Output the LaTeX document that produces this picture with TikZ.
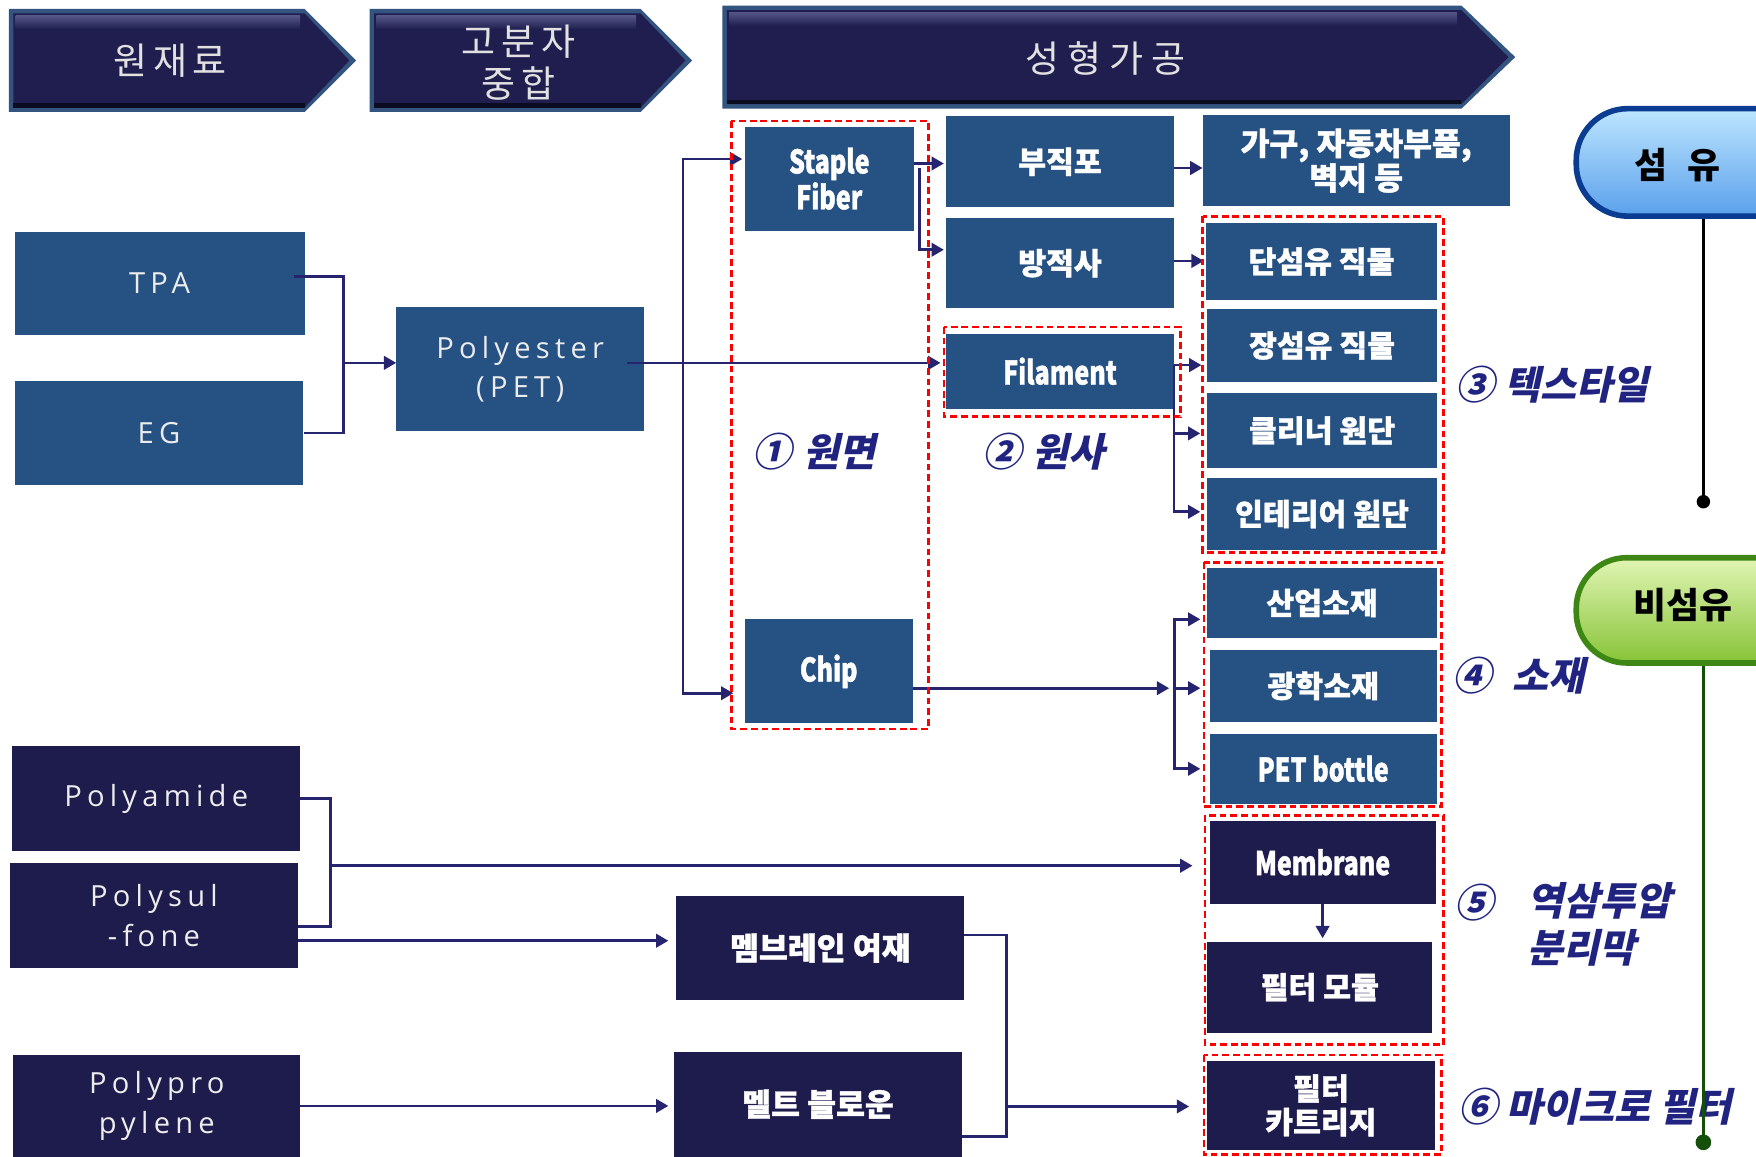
\documentclass[tikz,border=0pt]{standalone}
\usepackage{fontspec}
\usetikzlibrary{arrows.meta}
\newfontfamily\kr{Noto Sans CJK KR}
\newfontfamily\krh{Noto Sans CJK KR}[BoldFeatures={FakeBold=1.2}]
\newfontfamily\krc{Noto Sans CJK KR}[FakeStretch=0.77, BoldFeatures={FakeBold=1.2}]
\newfontfamily\krsl{Noto Sans CJK KR}[FakeSlant=0.22]
\newfontfamily\krls{Noto Sans CJK KR}[LetterSpace=15]
\newfontfamily\krlw{Noto Sans CJK KR}[LetterSpace=22]
\newfontfamily\latf{Open Sans}[LetterSpace=18]
\definecolor{boxblue}{RGB}{38,81,131}
\definecolor{boxnavy}{RGB}{30,28,76}
\definecolor{lineblue}{RGB}{38,36,110}
\definecolor{labnavy}{RGB}{32,36,128}
\definecolor{bannerin}{RGB}{31,30,79}
\definecolor{banneredge}{RGB}{52,84,128}
\definecolor{bannerhi}{RGB}{84,84,135}
\definecolor{latgray}{RGB}{236,236,236}
\definecolor{bantext}{RGB}{225,225,225}
\definecolor{pillblue}{RGB}{10,60,145}
\definecolor{pillbluetop}{RGB}{190,230,255}
\definecolor{pillbluemid}{RGB}{215,245,255}
\definecolor{pillbluebot}{RGB}{90,160,235}
\definecolor{pillgreen}{RGB}{62,135,20}
\definecolor{pillgreentop}{RGB}{225,245,180}
\definecolor{pillgreenmid}{RGB}{242,252,215}
\definecolor{pillgreenbot}{RGB}{135,195,55}
\definecolor{greenline}{RGB}{20,80,10}
\newcommand\bannershape[5]{%
  \fill[banneredge] (#1,#2) -- (#3,#2) -- (#4,{(#2+#5)/2}) -- (#3,#5) -- (#1,#5) -- cycle;
  \fill[bannerin] ({#1+4},{#2+4}) -- (#3,{#2+4}) -- ({#4-6},{(#2+#5)/2}) -- (#3,{#5-4}) -- ({#1+4},{#5-4}) -- cycle;
  \shade[top color=bannerhi, bottom color=bannerin] ({#1+6},{#2+6}) rectangle ({#3-4},{#2+18});
  \fill[black!60!bannerin] ({#1+4},{#5-8}) rectangle (#3,{#5-4});
}
\begin{document}
\begin{tikzpicture}[x=1pt,y=-1pt,
  sz/.style 2 args={minimum width=#1, minimum height=#2},
  bbox/.style={fill=boxblue, inner sep=0pt, text=white, align=center},
  nbox/.style={fill=boxnavy, inner sep=0pt, text=white, align=center},
  lat/.style={font=\latf\fontsize{26}{35}\selectfont, text=latgray},
  hb/.style={font=\krh\bfseries\fontsize{27}{30}\selectfont},
  eb/.style={font=\krc\bfseries\fontsize{29}{32}\selectfont},
  bantxt/.style={font=\krls\fontsize{33}{38}\selectfont, text=bantext, align=center},
  lab/.style={font=\krsl\bfseries\fontsize{35}{42}\selectfont, text=labnavy, inner sep=0pt},
  conn/.style={draw=lineblue, line width=2.4pt},
  arr/.style={conn, -{Triangle[length=11pt,width=12pt]}},
  reddash/.style={draw=red, line width=2.5pt, dash pattern=on 6pt off 3.5pt},
  pilltxt/.style={font=\kr\bfseries\fontsize{32}{36}\selectfont, text=black}
]
\useasboundingbox (0,0) rectangle (1568,1033);
\fill[white] (0,0) rectangle (1568,1033);

% ---- header banners
\bannershape{8}{8}{272}{318}{100}
\bannershape{330}{8}{572}{618}{100}
\bannershape{645}{5}{1305}{1353}{97}
\node[bantxt] (h1) at (152,54) {원재료};
\node[bantxt] (h2) at (463,56) {고분자\\중합};
\node[bantxt, font=\krlw\fontsize{33}{38}\selectfont] (h3) at (987,52) {성형가공};

% ---- boxes
\node[bbox, lat, sz={259}{92}] (tpa) at (142.5,253) {TPA};
\node[bbox, lat, sz={258}{93}] (eg) at (142,386.5) {EG};
\node[bbox, lat, sz={221}{111}] (pet) at (464.5,329.5) {Polyester\\(PET)};
\node[bbox, eb, sz={151}{93}] (staple) at (740.5,159.5) {Staple\\Fiber};
\node[bbox, eb, sz={150}{93}] (chip) at (740,599.5) {Chip};
\node[bbox, hb, sz={203}{81}] (bujik) at (946.5,144.5) {부직포};
\node[bbox, hb, sz={203}{80}] (bangjeok) at (946.5,235) {방적사};
\node[bbox, eb, sz={203}{67}] (filament) at (946.5,331.5) {Filament};
\node[bbox, font=\krh\bfseries\fontsize{28}{27}\selectfont, sz={274}{81}] (gagu) at (1211,143.5) {가구, 자동차부품,\\벽지 등};
\node[bbox, hb, sz={206}{69}] (dan) at (1180,233.5) {단섬유 직물};
\node[bbox, hb, sz={205}{65}] (jang) at (1180.5,308.5) {장섬유 직물};
\node[bbox, hb, sz={205}{67}] (cleaner) at (1180.5,384.5) {클리너 원단};
\node[bbox, hb, sz={205}{64}] (interior) at (1180.5,459) {인테리어 원단};
\node[bbox, hb, sz={205}{63}] (sanup) at (1180.5,538.5) {산업소재};
\node[bbox, hb, sz={203}{65}] (gwang) at (1181.5,612.5) {광학소재};
\node[bbox, eb, sz={203}{63}] (bottle) at (1181.5,686.5) {PET bottle};
\node[nbox, eb, sz={202}{74}] (membrane) at (1181,770) {Membrane};
\node[nbox, hb, sz={201}{81}] (module) at (1178.5,881.5) {필터 모듈};
\node[nbox, hb, sz={203}{80}] (cartridge) at (1179.5,987) {필터\\카트리지};
\node[nbox, lat, sz={257}{94}] (polyamide) at (139.5,713) {Polyamide};
\node[nbox, lat, sz={257}{93}] (polysulfone) at (137.5,817.5) {Polysul\\-fone};
\node[nbox, lat, sz={256}{91}] (pp) at (140,987.5) {Polypro\\pylene};
\node[nbox, font=\krh\bfseries\fontsize{28}{30}\selectfont, sz={257}{93}] (membr) at (732.5,846.5) {멤브레인 여재};
\node[nbox, font=\krh\bfseries\fontsize{28}{30}\selectfont, sz={257}{94}] (melt) at (730.5,986) {멜트 블로운};

% ---- connectors
\coordinate (j1) at (307,324);
\draw[conn] ([xshift=-10pt,yshift=6pt]tpa.east) -| (j1) |- (eg.east);
\draw[arr] (j1) -- (j1 -| pet.west);

\coordinate (j2) at (610,324);
\path (pet.east |- j2) ++(-15,0) coordinate (p0);
\draw[conn] (p0) -- (j2);
\coordinate (st) at ([yshift=17.5pt]staple.west);
\coordinate (ch) at ([yshift=-19.5pt]chip.west);
\draw[arr, shorten >=2pt] (j2) |- (st);
\draw[arr, shorten >=10pt] (j2) |- (ch);
\draw[arr, shorten >=5pt] (j2) -- (j2 -| filament.west);

\coordinate (s1) at ([yshift=13.5pt]staple.east);
\draw[arr, shorten >=2pt] (s1) -- (s1 -| bujik.west);
\coordinate (s2) at ([xshift=5pt,yshift=9.5pt]staple.east);
\coordinate (bj) at ([yshift=12pt]bangjeok.west);
\draw[arr, shorten >=2pt] (s2) |- (bj);

\coordinate (b1) at ([yshift=-5.5pt]bujik.east);
\draw[arr] (b1) -- (b1 -| gagu.west);
\coordinate (b2) at ([yshift=2pt]bangjeok.east);
\draw[arr, shorten >=2pt] (b2) -- (b2 -| dan.west);

\coordinate (f1) at ([yshift=5.5pt]filament.east);
\draw[arr, shorten >=5pt] (f1) -- (f1 -| jang.west);
\coordinate (cl) at ([yshift=-2.5pt]cleaner.west);
\coordinate (it) at ([yshift=2pt]interior.west);
\draw[arr, shorten >=6pt] (f1) |- (cl);
\draw[arr, shorten >=6pt] (f1) |- (it);

\coordinate (c1) at ([yshift=-15pt]chip.east);
\coordinate (cj) at (1049,614.5);
\draw[arr, shorten >=5pt] (c1) -- (cj);
\coordinate (su) at ([yshift=-14.5pt]sanup.west);
\draw[arr, shorten >=6pt] (cj) |- (su);
\draw[arr, shorten >=8pt] (cj) -- (cj -| gwang.west);
\draw[arr, shorten >=8pt] (cj) |- (bottle.west);

\coordinate (pj) at (295,773);
\coordinate (psb) at ([yshift=-9.5pt]polysulfone.east);
\draw[conn] (polyamide.east) -| (pj) |- (psb);
\draw[arr, shorten >=15pt] (pj) -- (pj -| membrane.west);
\coordinate (ps1) at ([yshift=-22.5pt]polysulfone.east);
\draw[arr, shorten >=7pt] (ps1) -- (ps1 -| membr.west);
\draw[arr, shorten >=5pt] (pp.east) -- (pp.east -| melt.west);

\coordinate (mj) at (899,988);
\coordinate (mt) at ([yshift=11.5pt]membr.east);
\coordinate (mb) at ([yshift=-29pt]melt.east);
\draw[conn] (mt) -| (mj) |- (mb);
\draw[arr, shorten >=16pt] (mj) -- (mj -| cartridge.west);

\draw[arr, shorten >=3pt] (membrane.south) -- (membrane.south |- module.north);

% ---- red dashed groups
\draw[reddash] (653,108) rectangle (829,651);
\draw[reddash] (843,292) rectangle (1054,372);
\draw[reddash] (1074,193) rectangle (1289,493);
\draw[reddash] (1075,502) rectangle (1287,720);
\draw[reddash] (1076,728) rectangle (1289,933);
\draw[reddash] (1075,942) rectangle (1287,1031);

% ---- labels
\node[lab] (l1) at (727,403) {①\hspace{10pt}원면};
\node[lab] (l2) at (932,403) {②\hspace{10pt}원사};
\node[lab] (l3) at (1386,343) {③\hspace{9pt}텍스타일};
\node[lab, anchor=west] (l4) at (1297,603) {④\hspace{18pt}소재};
\node[lab] (l5a) at (1316,806) {⑤};
\node[lab, anchor=west, align=left] (l5b) at (1364,825) {역삼투압\\분리막};
\node[lab] (l6) at (1424,988) {⑥\hspace{8pt}마이크로 필터};

% ---- category pills
\begin{scope}
\clip (0,0) rectangle (1568,1033);
\node[draw=pillblue, line width=5pt, rounded corners=46pt, top color=pillbluetop, middle color=pillbluemid, bottom color=pillbluebot, minimum width=300, minimum height=96, anchor=west] (fiber) at (1405,145) {};
\node[draw=pillgreen, line width=5pt, rounded corners=45pt, top color=pillgreentop, middle color=pillgreenmid, bottom color=pillgreenbot, minimum width=300, minimum height=94, anchor=west] (nonfiber) at (1405,545) {};
\end{scope}
\node[pilltxt] (fibertxt) at (1498,147) {섬\hspace{18pt}유};
\node[pilltxt] (nonfibertxt) at (1503,540) {비섬유};

\coordinate (fdot) at (1521,448);
\draw[black, line width=2pt] (fiber.south -| fdot) -- (fdot);
\fill[black] (fdot) circle (6);
\coordinate (gdot) at (1521,1020);
\draw[greenline, line width=2pt] (nonfiber.south -| gdot) -- (gdot);
\fill[greenline] (gdot) circle (7);
\end{tikzpicture}
\end{document}
